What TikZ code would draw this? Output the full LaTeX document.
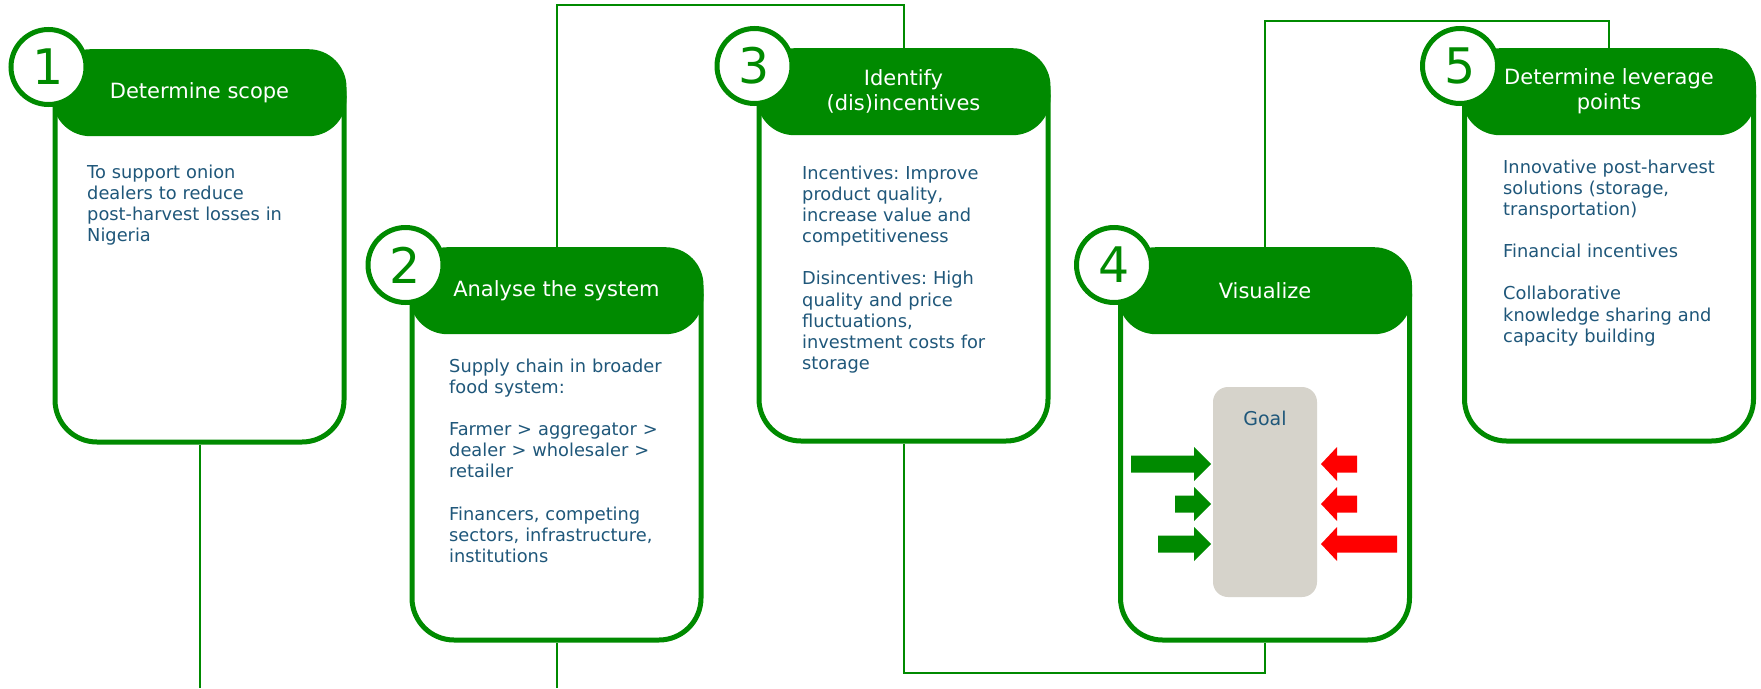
\documentclass[tikz,border=0pt]{standalone}
\usepackage{fontspec}
\setmainfont{DejaVu Sans}
\usetikzlibrary{positioning}
\definecolor{stepgreen}{RGB}{0,138,0}
\definecolor{bodyblue}{RGB}{31,87,122}
\definecolor{goalgrey}{RGB}{214,211,203}
\definecolor{pushred}{RGB}{255,0,0}
\frenchspacing
\tikzset{
  card/.style={draw=stepgreen, line width=5pt, fill=white, rounded corners=42pt,
    minimum width=289pt, minimum height=388pt, inner sep=0pt},
  header/.style={fill=stepgreen, rounded corners=38pt, minimum width=294pt,
    minimum height=87pt, inner sep=0pt, text=white, align=center,
    font=\fontsize{21}{25}\selectfont},
  num/.style={circle, draw=stepgreen, line width=5pt, fill=white, minimum size=75pt,
    inner sep=0pt, text=stepgreen, font=\fontsize{49}{49}\selectfont},
  body/.style={anchor=base west, align=left, text width=280pt, inner sep=0pt,
    text=bodyblue, font=\fontsize{17.8}{21.2}\selectfont},
  link/.style={draw=stepgreen, line width=2pt},
  goal/.style={fill=goalgrey, rounded corners=15pt, minimum width=104pt,
    minimum height=210pt, inner sep=0pt}
}

\begin{document}
\begin{tikzpicture}[x=1pt, y=-1pt]
      \useasboundingbox (0,0) rectangle (1761,688);

      % the five steps
      \node[card] (c1) at (199.5,248) {};
      \node[header, anchor=north] (h1) at ([yshift=2.5pt]c1.north) {Determine scope};
      \node[num] (n1) at ([xshift=-4pt, yshift=-15.5pt]c1.north west) {1};
      \node[body] (t1) at (87,178) {To support onion\\ dealers to reduce\\
        post-harvest losses in\\ Nigeria};

      \node[card] (c2) at (556.5,446) {};
      \node[header, anchor=north] (h2) at ([yshift=2.5pt]c2.north) {Analyse the system};
      \node[num] (n2) at ([xshift=-4pt, yshift=-15.5pt]c2.north west) {2};
      \node[body] (t2) at (449,372) {Supply chain in broader\\ food system:\\[21pt]
        Farmer > aggregator >\\ dealer > wholesaler >\\ retailer\\[21pt]
        Financers, competing\\ sectors, infrastructure,\\ institutions};

      \node[card] (c3) at (903.5,247) {};
      \node[header, anchor=north] (h3) at ([yshift=2.5pt]c3.north) {Identify\\ (dis)incentives};
      \node[num] (n3) at ([xshift=-2pt, yshift=-15.5pt]c3.north west) {3};
      \node[body] (t3) at (802,179) {Incentives: Improve\\ product quality,\\
        increase value and\\ competitiveness\\[21pt]
        Disincentives: High\\ quality and price\\ fluctuations,\\
        investment costs for\\ storage};

      \node[card] (c4) at (1265,446) {};
      \node[header, anchor=north] (h4) at ([yshift=2.5pt]c4.north) {Visualize};
      \node[num] (n4) at ([xshift=-4pt, yshift=-15.5pt]c4.north west) {4};

      \node[card] (c5) at (1609,247) {};
      \node[header, anchor=north] (h5) at ([yshift=2.5pt]c5.north) {Determine leverage\\ points};
      \node[num] (n5) at ([xshift=-2pt, yshift=-15.5pt]c5.north west) {5};
      \node[body] (t5) at (1503,173) {Innovative post-harvest\\ solutions (storage,\\
        transportation)\\[21pt] Financial incentives\\[21pt]
        Collaborative\\ knowledge sharing and\\ capacity building};

      % connectors
      \coordinate (low) at (0,688);
      \coordinate (top23) at (0,5);
      \coordinate (bot34) at (0,673);
      \coordinate (top45) at (0,21);
      \draw[link] (c1.south) -- (c1.south |- low);
      \draw[link] (c2.south) -- (c2.south |- low);
      \draw[link] (h2.north) -- (h2.north |- top23) -| (h3.north);
      \draw[link] (c3.south) -- (c3.south |- bot34) -| (c4.south);
      \draw[link] (h4.north) -- (h4.north |- top45) -| (h5.north);

      % goal with forces
      \node[goal] (goal) at (1265,492) {};
      \node[text=bodyblue, font=\fontsize{19}{19}\selectfont] (goaltext) at (1265,418) {Goal};

      \fill[stepgreen] (1131,455.5) -- ++(63,0) -- ++(0,-8.5) -- ++(17,17)
        -- ++(-17,17) -- ++(0,-8.5) -- ++(-63,0) -- cycle;
      \fill[stepgreen] (1175,495.5) -- ++(19,0) -- ++(0,-8.5) -- ++(17,17)
        -- ++(-17,17) -- ++(0,-8.5) -- ++(-19,0) -- cycle;
      \fill[stepgreen] (1158,535.5) -- ++(36,0) -- ++(0,-8.5) -- ++(17,17)
        -- ++(-17,17) -- ++(0,-8.5) -- ++(-36,0) -- cycle;

      \fill[pushred] (1357,455.5) -- ++(-20,0) -- ++(0,-8.5) -- ++(-16,17)
        -- ++(16,17) -- ++(0,-8.5) -- ++(20,0) -- cycle;
      \fill[pushred] (1357,495.5) -- ++(-20,0) -- ++(0,-8.5) -- ++(-16,17)
        -- ++(16,17) -- ++(0,-8.5) -- ++(20,0) -- cycle;
      \fill[pushred] (1397,535.5) -- ++(-60,0) -- ++(0,-8.5) -- ++(-16,17)
        -- ++(16,17) -- ++(0,-8.5) -- ++(60,0) -- cycle;

    \end{tikzpicture}
\end{document}
